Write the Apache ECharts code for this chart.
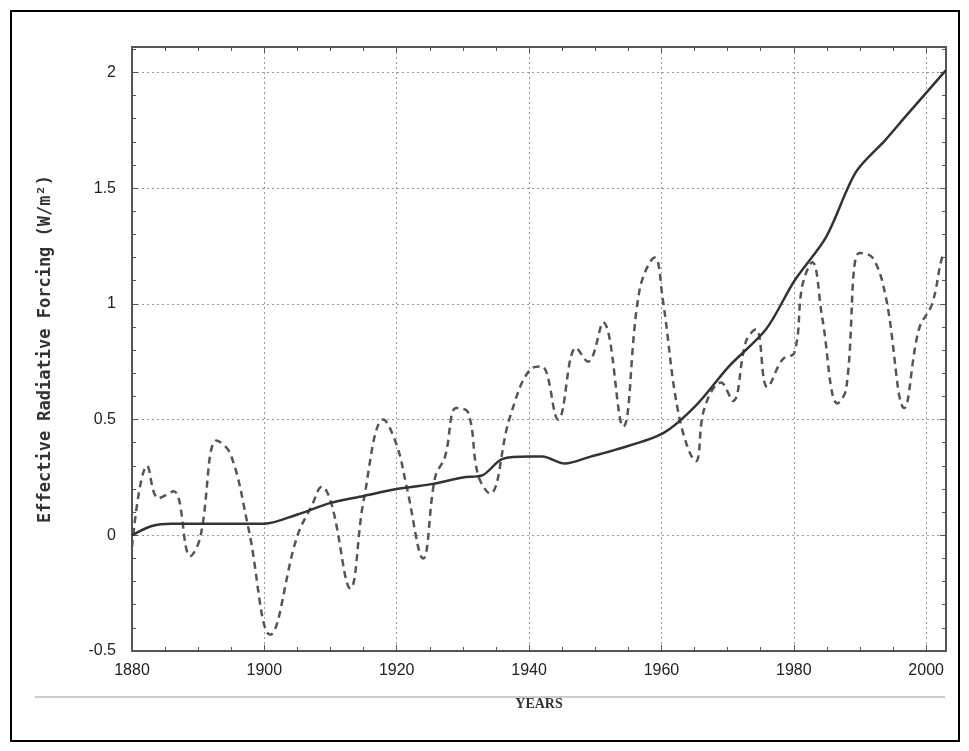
<!DOCTYPE html>
<html><head><meta charset="utf-8">
<script src="https://cdn.jsdelivr.net/npm/echarts@6/dist/echarts.min.js"></script>
<style>html,body{margin:0;padding:0;background:#fff}#c{width:969px;height:751px}
#frame{position:absolute;left:10px;top:10px;width:946px;height:728px;border:2px solid #000;pointer-events:none}</style>
</head><body><div id="c"></div><div id="frame"></div>
<script>
var solidYears = [1880,1883,1886,1895,1900,1905,1910,1915,1920,1925,1930,1933,1936,1940,1942,1945.4,1949.3,1953.1,1960.2,1965.2,1970.2,1975.8,1980.1,1984.9,1989.4,1993.9,1996.9,2003];
var solidVals  = [0.0,0.04,0.05,0.05,0.05,0.09,0.14,0.17,0.20,0.22,0.25,0.26,0.33,0.34,0.34,0.31,0.34,0.37,0.44,0.56,0.73,0.89,1.10,1.29,1.57,1.71,1.81,2.01];
var dashYears = [1880,1882.3,1884,1886.3,1888.8,1890.3,1892.8,1894.9,1897.6,1900.9,1904.9,1907.2,1908.7,1910.2,1913,1915,1918,1920,1921.5,1924,1925.8,1927.3,1929,1930.8,1932.3,1934.1,1937.1,1940.3,1941.9,1944.4,1947.1,1948.9,1951.2,1954.2,1956.7,1959,1960.2,1962.7,1965.2,1966.5,1969,1970.8,1972.8,1974.3,1976,1978.3,1980.1,1981.3,1982.8,1984.3,1986.6,1987.9,1989.9,1991.9,1993.9,1996.7,1998.9,2000.9,2002.4,2003];
var dashVals  = [-0.05,0.30,0.16,0.19,-0.09,-0.01,0.41,0.35,0.03,-0.43,-0.01,0.13,0.21,0.13,-0.23,0.15,0.50,0.39,0.21,-0.10,0.25,0.34,0.55,0.53,0.26,0.18,0.51,0.72,0.73,0.50,0.81,0.75,0.92,0.47,1.06,1.20,1.02,0.51,0.32,0.55,0.66,0.58,0.84,0.89,0.64,0.76,0.79,1.08,1.18,0.94,0.57,0.63,1.22,1.20,1.03,0.55,0.89,1.00,1.20,1.22];
var xTicks = [1880,1900,1920,1940,1960,1980,2000];
var yTicks = [-0.5,0,0.5,1,1.5,2];

function pairs(xs, ys){ return xs.map(function(x,i){return [x, ys[i]];}); }
var tickFont = {fontFamily:'Liberation Sans', fontSize:16, color:'#222'};
var grid = {lineStyle:{color:'#999', type:[2,3], width:1}};
var chart = echarts.init(document.getElementById('c'));
chart.setOption({
  animation:false,
  grid:{left:132, right:23, top:47, bottom:100},
  graphic:[{type:'line', shape:{x1:35,y1:697,x2:945,y2:697}, style:{stroke:'#ccc', lineWidth:2}}],
  xAxis:[{type:'value', min:1880, max:2003, interval:20,
    name:'YEARS', nameLocation:'middle', nameGap:46,
    nameTextStyle:{fontFamily:'Liberation Serif', fontWeight:'bold', fontSize:14, color:'#333'},
    axisLine:{onZero:false, lineStyle:{color:'#555', width:2}}, axisTick:{inside:true, length:6, lineStyle:{color:'#555'}},
    minorTick:{show:true, splitNumber:4, length:4, lineStyle:{color:'#555'}},
    axisLabel:Object.assign({showMaxLabel:false, margin:12, formatter:function(v){return String(v);}}, tickFont),
    splitLine:grid},
   {type:'value', position:'top', min:1880, max:2003, interval:20,
    axisLine:{onZero:false, lineStyle:{color:'#555', width:2}}, axisTick:{inside:true, length:6, lineStyle:{color:'#555'}},
    minorTick:{show:true, splitNumber:4, length:4, lineStyle:{color:'#555'}},
    axisLabel:{show:false}, splitLine:{show:false}}],
  yAxis:[{type:'value', min:-0.5, max:2.11, interval:0.5,
    name:'Effective Radiative Forcing (W/m²)', nameLocation:'middle', nameGap:78, nameRotate:90,
    nameTextStyle:{fontFamily:'DejaVu Sans Mono', fontWeight:'bold', fontSize:17, color:'#333'},
    axisLine:{onZero:false, lineStyle:{color:'#555', width:2}}, axisTick:{inside:true, length:6, lineStyle:{color:'#555'}},
    minorTick:{show:true, splitNumber:5, length:4, lineStyle:{color:'#555'}},
    axisLabel:Object.assign({showMaxLabel:false, margin:16}, tickFont),
    splitLine:grid},
   {type:'value', position:'right', min:-0.5, max:2.11, interval:0.5,
    axisLine:{show:true, onZero:false, lineStyle:{color:'#555', width:2}}, axisTick:{inside:true, length:6, lineStyle:{color:'#555'}},
    minorTick:{show:true, splitNumber:5, length:4, lineStyle:{color:'#555'}},
    axisLabel:{show:false}, splitLine:{show:false}}],
  series:[
    {type:'line', data:pairs(dashYears,dashVals), smooth:0.4, showSymbol:false,
     lineStyle:{color:'#555', width:2.5, type:[7,5]}},
    {type:'line', data:pairs(solidYears,solidVals), smooth:0.3, showSymbol:false,
     lineStyle:{color:'#333', width:2.5}}
  ]
});
</script></body></html>
